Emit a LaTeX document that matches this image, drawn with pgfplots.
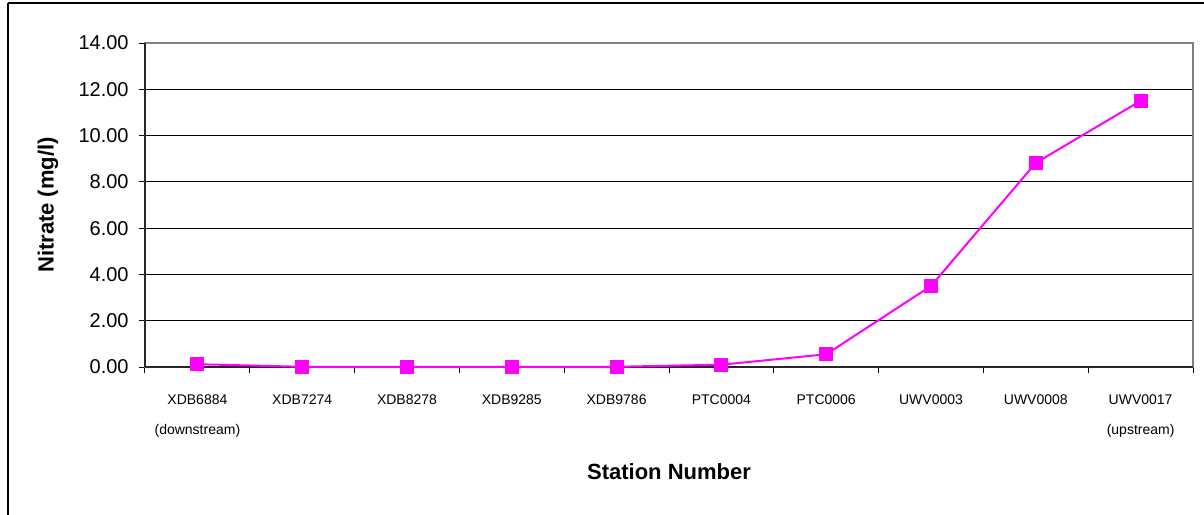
\documentclass[border=0pt]{standalone}
\usepackage{fontspec}
\setmainfont{Liberation Sans}
\usepackage{pgfplots}
\pgfplotsset{compat=1.18}
\definecolor{mag}{HTML}{FF00FF}
\definecolor{boxgray}{HTML}{808080}
\pgfplotstableread{
x y
0 0.12
1 0.01
2 0.01
3 0.01
4 0.01
5 0.10
6 0.55
7 3.50
8 8.82
9 11.50
}\nitrate
\begin{document}
\begin{tikzpicture}
\useasboundingbox (0,0) rectangle (602pt,-257pt);
\draw[line width=0.75pt] (4pt,-1.5pt) -- (640pt,-1.5pt);
\draw[line width=0.75pt] (4pt,-1.5pt) -- (4pt,-280pt);
\begin{axis}[
  at={(72.5pt,-183.5pt)}, anchor=south west,
  scale only axis, width=524pt, height=162pt,
  xmin=-0.5, xmax=9.5, ymin=0, ymax=14,
  xtick={0,...,9},
  xticklabels={{XDB6884\\[7.2pt](downstream)},{XDB7274\\[7.2pt]\mbox{}},{XDB8278\\[7.2pt]\mbox{}},{XDB9285\\[7.2pt]\mbox{}},{XDB9786\\[7.2pt]\mbox{}},{PTC0004\\[7.2pt]\mbox{}},{PTC0006\\[7.2pt]\mbox{}},{UWV0003\\[7.2pt]\mbox{}},{UWV0008\\[7.2pt]\mbox{}},{UWV0017\\[7.2pt](upstream)}},
  minor xtick={-0.5,0.5,...,9.5},
  major x tick style={draw=none},
  ytick={0,2,...,14},
  tick align=outside,
  major tick length=3pt, minor tick length=3pt,
  tick style={black, line width=0.5pt},
  xtick pos=bottom, ytick pos=left,
  ymajorgrids,
  grid style={black, line width=0.5pt},
  axis line style={boxgray, line width=1pt},
  xticklabel style={font=\fontsize{7}{8}\selectfont, align=center, anchor=base, yshift=-30.75pt},
  yticklabel style={font=\fontsize{10}{12}\selectfont, anchor=east, inner sep=0pt, xshift=-5pt},
  yticklabel={\pgfmathprintnumber[fixed, fixed zerofill, precision=2]{\tick}},
  /pgf/number format/assume math mode=true,
  xlabel={Station Number},
  ylabel={Nitrate (mg/l)},
  xlabel style={font=\fontsize{11}{13}\selectfont\bfseries, at={(axis description cs:0.5,-0.324)}, anchor=center},
  ylabel style={font=\fontsize{11}{13}\selectfont\bfseries, at={(axis description cs:-0.0926,0.5)}, anchor=center},
  clip=false,
]
\draw[black!85, line width=0.9pt] (rel axis cs:0,0) -- (rel axis cs:0,1);
\draw[black!85, line width=0.9pt] (rel axis cs:0,0) -- (rel axis cs:1,0);
\addplot[mag, line width=1pt, mark=square*, mark size=3pt, mark options={solid, fill=mag, draw=mag}] table[x=x, y=y] {\nitrate};
\end{axis}
\end{tikzpicture}
\end{document}
